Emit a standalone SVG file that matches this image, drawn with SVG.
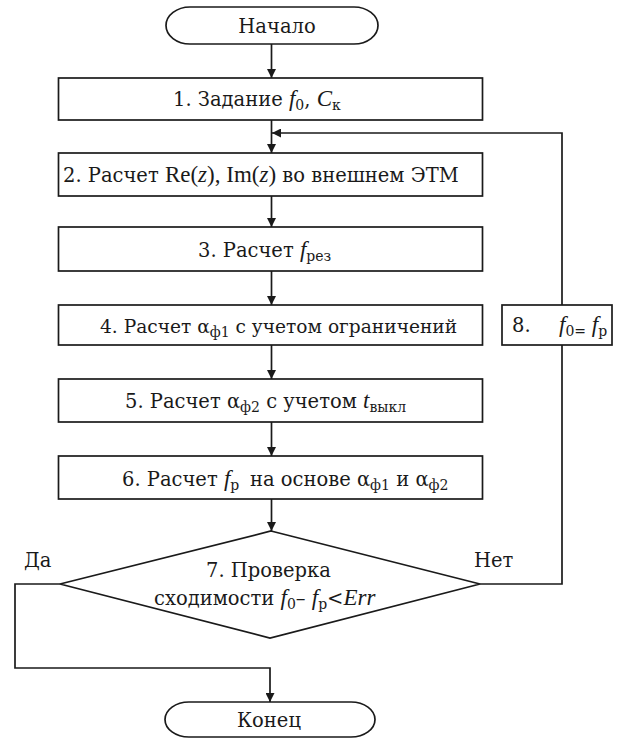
<svg xmlns="http://www.w3.org/2000/svg" width="626" height="738" viewBox="0 0 626 738">
<style>
  .shape { fill: #ffffff; stroke: #1a1a1a; stroke-width: 1.7; }
  .conn { fill: none; stroke: #1a1a1a; stroke-width: 1.7; }
  text { font-family: "DejaVu Serif", "Liberation Serif", serif; font-size: 19.5px; fill: #1a1a1a; }
  .lat { font-family: "Liberation Serif", serif; font-size: 23px; }
  .it { font-style: italic; font-family: "Liberation Serif", serif; font-size: 23px; }
  .sub { font-size: 14px; }
</style>
<defs>
  <marker id="arr" viewBox="0 0 10 10" refX="10" refY="5" markerWidth="9" markerHeight="9" markerUnits="userSpaceOnUse" orient="auto">
    <path d="M0,0 L10,5 L0,10 z" fill="#1a1a1a"/>
  </marker>
</defs>
<rect width="626" height="738" fill="#ffffff"/>

<g id="connectors">
  <line class="conn" x1="271.5" y1="44" x2="271.5" y2="78" marker-end="url(#arr)"/>
  <line class="conn" x1="271.5" y1="120" x2="271.5" y2="153" marker-end="url(#arr)"/>
  <line class="conn" x1="271.5" y1="196" x2="271.5" y2="227" marker-end="url(#arr)"/>
  <line class="conn" x1="271.5" y1="271" x2="271.5" y2="305" marker-end="url(#arr)"/>
  <line class="conn" x1="271.5" y1="345" x2="271.5" y2="379" marker-end="url(#arr)"/>
  <line class="conn" x1="271.5" y1="422" x2="271.5" y2="456" marker-end="url(#arr)"/>
  <line class="conn" x1="271.5" y1="499" x2="271.5" y2="531" marker-end="url(#arr)"/>
  <polyline class="conn" points="480,584 562,584 562,345"/>
  <polyline class="conn" points="562,305 562,133 272,133" marker-end="url(#arr)"/>
  <polyline class="conn" points="60,584 15,584 15,668 270,668 270,702" marker-end="url(#arr)"/>
</g>

<g id="start">
  <rect class="shape" x="166" y="7" width="212" height="37" rx="24" ry="18.5"/>
  <text x="277" y="33" text-anchor="middle">Начало</text>
</g>

<g id="step1">
  <rect class="shape" x="58.5" y="78" width="424" height="42"/>
  <text x="173" y="106">1. Задание <tspan class="it">f</tspan><tspan class="sub" dy="4">0</tspan><tspan dy="-4">, </tspan><tspan class="it">C</tspan><tspan class="sub" dy="4">к</tspan></text>
</g>

<g id="step2">
  <rect class="shape" x="58.5" y="153" width="424" height="43"/>
  <text x="63" y="182">2. Расчет <tspan class="lat">Re(</tspan><tspan class="it">z</tspan><tspan class="lat">), Im(</tspan><tspan class="it">z</tspan><tspan class="lat">)</tspan> во внешнем ЭТМ</text>
</g>

<g id="step3">
  <rect class="shape" x="58.5" y="227" width="424" height="44"/>
  <text x="198" y="257">3. Расчет <tspan class="it">f</tspan><tspan class="sub" dy="4">рез</tspan></text>
</g>

<g id="step4">
  <rect class="shape" x="58.5" y="305" width="424" height="40"/>
  <text x="100" y="333" style="font-size:18.6px">4. Расчет α<tspan class="sub" dy="4">ф1</tspan><tspan dy="-4"> с учетом ограничений</tspan></text>
</g>

<g id="step5">
  <rect class="shape" x="58.5" y="379" width="424" height="43"/>
  <text x="125" y="408">5. Расчет α<tspan class="sub" dy="4">ф2</tspan><tspan dy="-4"> с учетом </tspan><tspan class="it">t</tspan><tspan class="sub" dy="4">выкл</tspan></text>
</g>

<g id="step6">
  <rect class="shape" x="58.5" y="456" width="424" height="43"/>
  <text x="122" y="486">6. Расчет <tspan class="it">f</tspan><tspan class="sub" dy="4">р</tspan></text>
  <text x="250" y="486">на основе α<tspan class="sub" dy="4">ф1</tspan><tspan dy="-4"> и α</tspan><tspan class="sub" dy="4">ф2</tspan></text>
</g>

<g id="step7">
  <polygon class="shape" points="271,531 480,584 270,638 60,584"/>
  <text x="206" y="577">7. Проверка</text>
  <text x="154" y="605">сходимости  <tspan class="it">f</tspan><tspan class="sub" dy="4">0</tspan><tspan dy="-4">– </tspan><tspan class="it">f</tspan><tspan class="sub" dy="4">р</tspan><tspan dy="-4">&lt;</tspan><tspan class="it">E</tspan><tspan class="it">rr</tspan></text>
</g>

<g id="step8">
  <rect class="shape" x="502" y="305" width="110" height="40"/>
  <text x="512" y="332">8.</text>
  <text x="559" y="332"><tspan class="it">f</tspan><tspan class="sub" dy="4">0</tspan><tspan class="sub">=</tspan><tspan class="it" dy="-4"> f</tspan><tspan class="sub" dy="4">р</tspan></text>
</g>

<g id="labels">
  <text x="24" y="567">Да</text>
  <text x="474" y="567">Нет</text>
</g>

<g id="end">
  <rect class="shape" x="165" y="702" width="210" height="35" rx="24" ry="17.5"/>
  <text x="269" y="727" text-anchor="middle">Конец</text>
</g>
</svg>
